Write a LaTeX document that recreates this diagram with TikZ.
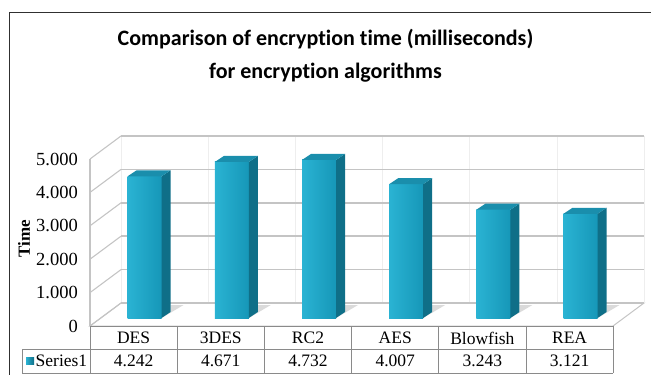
\documentclass[tikz,border=0pt]{standalone}
\usepackage{fontspec}
\setmainfont{Liberation Serif}
\newfontfamily\titlefont[Ligatures=NoCommon]{Carlito}
\definecolor{framec}{HTML}{303030}
\definecolor{gridc}{HTML}{C4C4C4}
\definecolor{faintc}{HTML}{EEEEEE}
\definecolor{tablec}{HTML}{8A8A8A}
\definecolor{barL}{HTML}{2AB3D3}
\definecolor{barR}{HTML}{1697B8}
\definecolor{barSide}{HTML}{0F6F88}
\definecolor{barTop}{HTML}{1A8EAC}
\definecolor{shadowc}{HTML}{DADADA}
\tikzset{
  gridline/.style={draw=gridc, line width=1.6pt},
  faintline/.style={draw=faintc, line width=0.8pt},
  tableline/.style={draw=tablec, line width=0.9pt},
  axislabel/.style={anchor=east, inner sep=0pt, font=\fontsize{18.5}{20}\selectfont},
  cellText/.style={inner sep=0pt, font=\fontsize{17.5}{19}\selectfont},
  titletext/.style={align=center, inner sep=0pt, font=\titlefont\bfseries\fontsize{22}{33}\selectfont}
}
\begin{document}
\begin{tikzpicture}[x=1pt,y=-1pt]
\useasboundingbox (0,0) rectangle (651,375);
% outer frame
\draw[framec, line width=1pt] (9,375) -- (9,12) -- (651,12);
% title
\node[titletext] (title) at (325.5,56) {Comparison of encryption time (milliseconds)\\for encryption algorithms};
% floor
\draw[gridline, line width=1pt] (90,326) -- (613,326) -- (644,303) -- (121,303) -- cycle;
% faint vertical lines on the back wall
\foreach \j in {0,...,6} {
  \pgfmathsetmacro\bx{121+87.2*\j}
  \draw[faintline] (\bx,303) -- (\bx,136);
}
% back wall gridlines and side wall diagonals
\foreach \k in {0,...,5} {
  \pgfmathsetmacro\fy{326-\k*33.4}
  \pgfmathsetmacro\by{303-\k*33.4}
  \draw[gridline] (121,\by) -- (644,\by);
  \draw[gridline, line width=1.1pt] (90,\fy) -- (121,\by);
}
\draw[gridline, line width=1.1pt] (90,326) -- (90,159);
% value axis labels
\foreach \lab [count=\k from 0] in {0,1.000,2.000,3.000,4.000,5.000} {
  \pgfmathsetmacro\fy{326-\k*33.4}
  \node[axislabel] (ylab\k) at (78,\fy) {\lab};
}
\node[rotate=90, inner sep=0pt, font=\bfseries\fontsize{17}{18}\selectfont] (ytitle) at (24,239) {Time};
% bars
\foreach \name/\v [count=\i from 0] in {DES/4.242,3DES/4.671,RC2/4.732,AES/4.007,Blowfish/3.243,REA/3.121} {
  \pgfmathsetmacro\c{90+87.2*(\i+0.5)}
  \pgfmathsetmacro\xl{\c-6}
  \pgfmathsetmacro\xr{\c+28}
  \pgfmathsetmacro\yt{318-\v*33.4}
  \fill[shadowc] (\xl,318) -- (\xr,318) -- (\xr+22,305) -- (\xr+9,305) -- (\xr+9,312) -- cycle;
  \shade[left color=barL, right color=barR] (\xl,318) rectangle (\xr,\yt);
  \fill[barSide] (\xr,318) -- (\xr+9,312) -- (\xr+9,\yt-6) -- (\xr,\yt) -- cycle;
  \fill[barTop] (\xl,\yt) -- (\xr,\yt) -- (\xr+9,\yt-6) -- (\xl+9,\yt-6) -- cycle;
  \node[cellText] (cat\i) at (\c,338) {\name};
  \node[cellText] (val\i) at (\c,361) {\v};
}
% data table
\draw[tableline] (90,326) -- (613,326);
\draw[tableline] (22,349) -- (613,349);
\draw[tableline] (22,373) -- (613,373);
\draw[tableline] (22,349) -- (22,373);
\foreach \j in {0,...,6} {
  \pgfmathsetmacro\tx{90+87.2*\j}
  \draw[tableline] (\tx,326) -- (\tx,373);
}
\shade[left color=barL, right color=barSide] (26,357) rectangle (34,364);
\node[cellText, anchor=west] (series) at (35.5,361) {Series1};
\end{tikzpicture}
\end{document}
